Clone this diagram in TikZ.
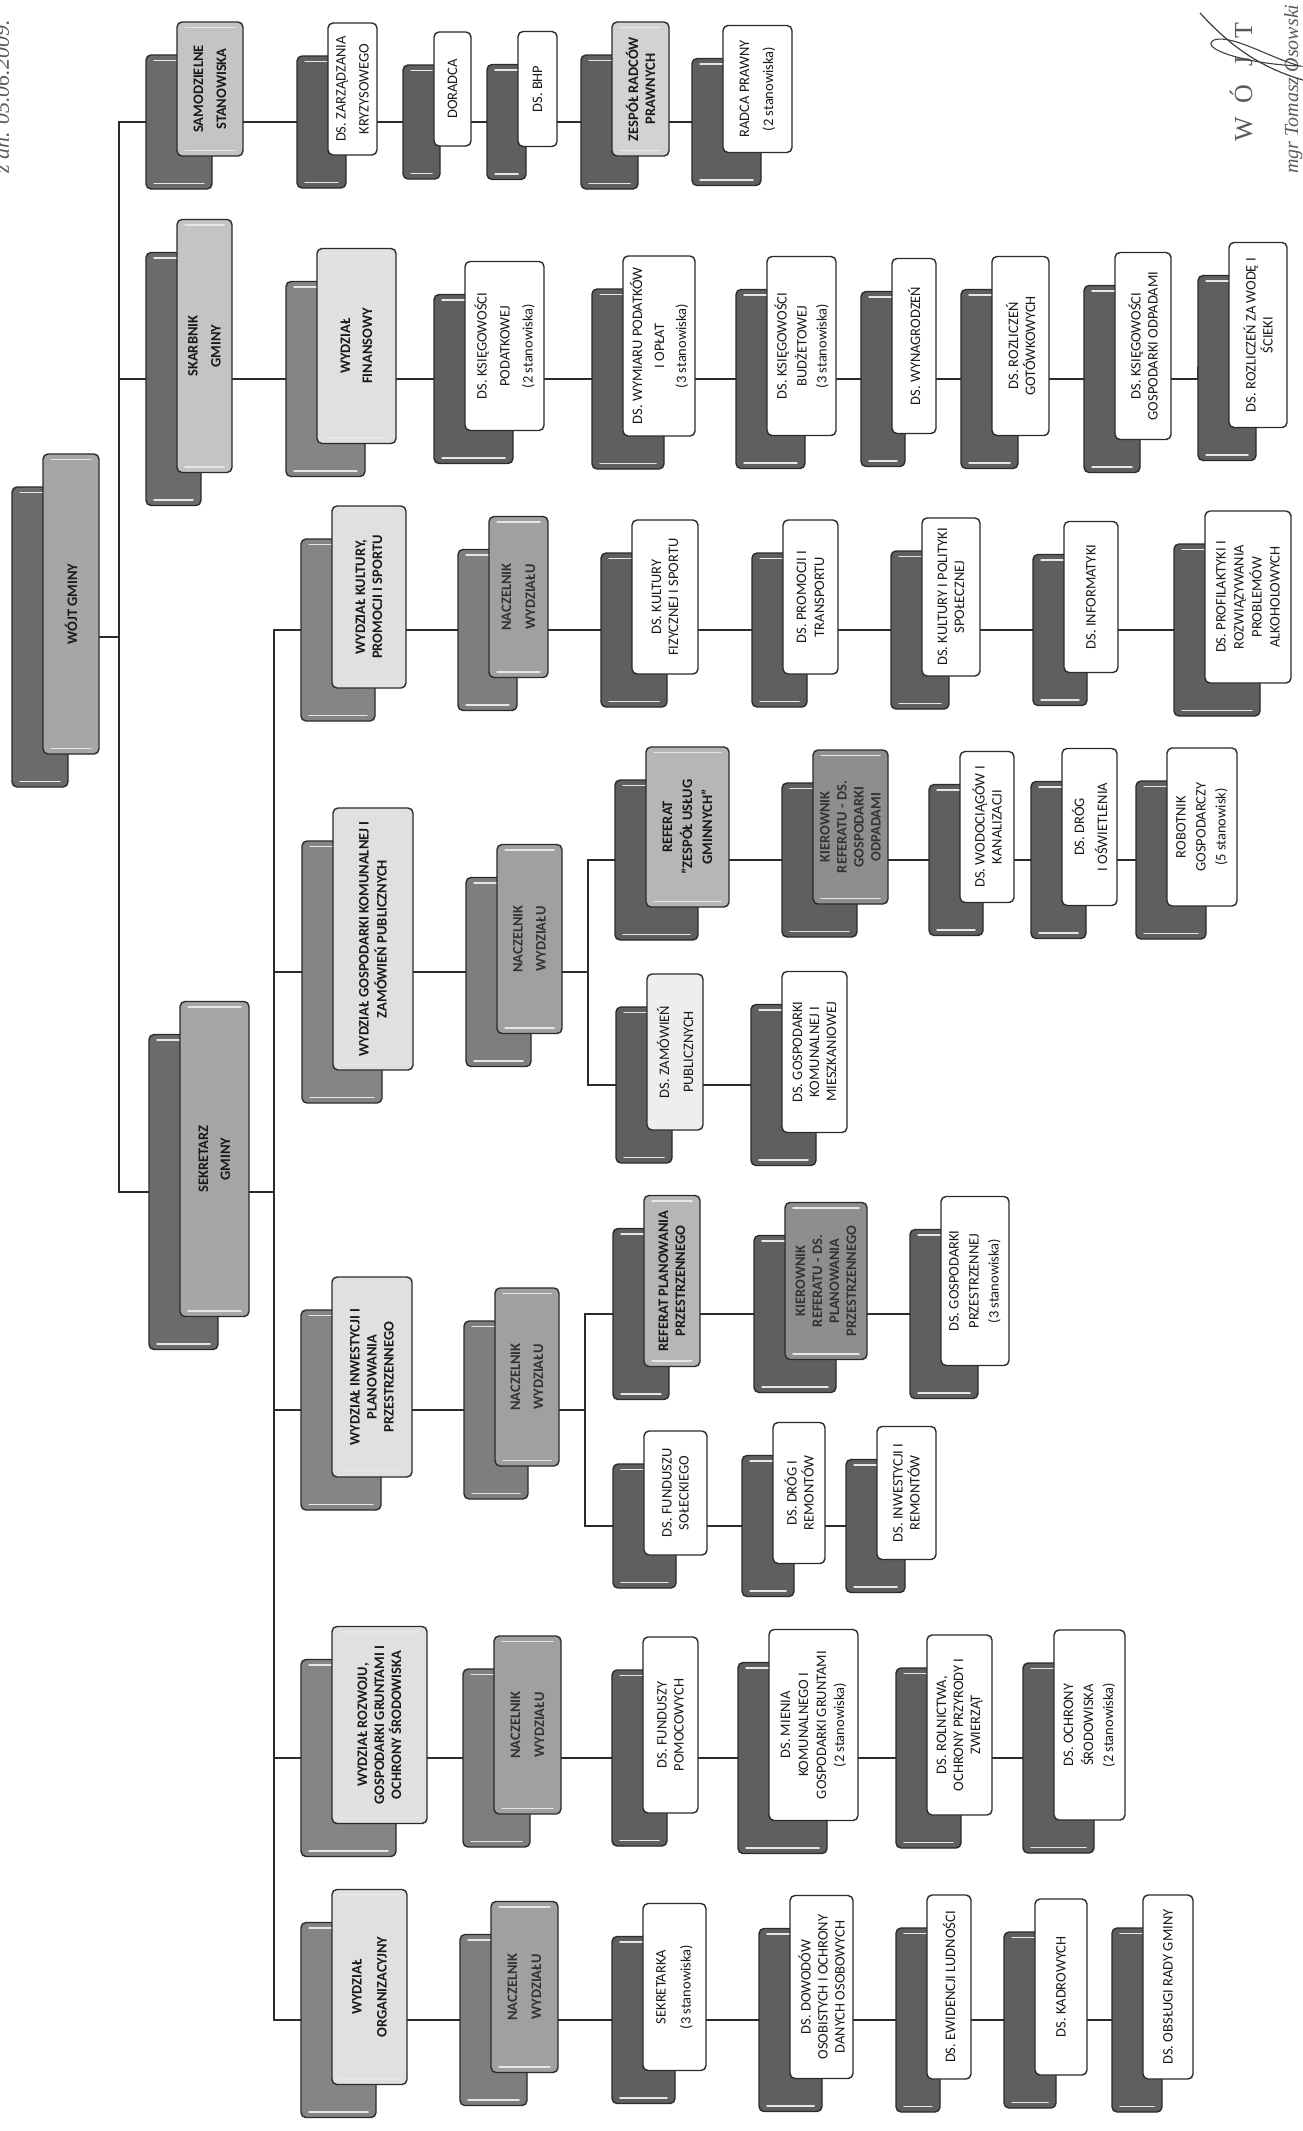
\documentclass[tikz,border=0pt]{standalone}
\usepackage{fontspec}
\newfontfamily\carl{Carlito}
\newfontfamily\sigfont{Liberation Serif}
\usetikzlibrary{calc}
\pgfdeclarelayer{bg}
\pgfsetlayers{bg,main}
\definecolor{edge}{HTML}{2B2B2B}
\definecolor{glosscol}{HTML}{E6E6E6}
\definecolor{backdark}{HTML}{5F5F5F}
\definecolor{backtop}{HTML}{6B6B6B}
\definecolor{backmid}{HTML}{858585}
\definecolor{backnacz}{HTML}{7E7E7E}
\definecolor{topfront}{HTML}{A6A6A6}
\definecolor{samfront}{HTML}{C4C4C4}
\definecolor{zespfront}{HTML}{D2D2D2}
\definecolor{wydfront}{HTML}{E0E0E0}
\definecolor{naczfront}{HTML}{A0A0A0}
\definecolor{reffront}{HTML}{B6B6B6}
\definecolor{kierfront}{HTML}{8E8E8E}
\definecolor{dslfront}{HTML}{EEEEEE}
\definecolor{sigcol}{HTML}{5A5A5A}
\tikzset{
  boxbase/.style={draw=edge, line width=1.4pt, rounded corners=5pt, inner sep=0pt, outer sep=0pt},
  gloss/.style={path picture={
    \draw[glosscol, line width=1.5pt, line cap=round]
      ([xshift=8pt,yshift=-5.5pt]path picture bounding box.north west) -- ([xshift=-8pt,yshift=-5.5pt]path picture bounding box.north east)
      ([xshift=8pt,yshift=5.5pt]path picture bounding box.south west) -- ([xshift=-8pt,yshift=5.5pt]path picture bounding box.south east);}},
  backbox/.style={boxbase, gloss},
  frontbox/.style={boxbase},
  txt/.style={inner sep=0pt, align=center, text=black!90},
  boldtxt/.style={execute at begin node=\bfseries},
  conn/.style={draw=edge, line width=1.6pt},
  top-back/.style={fill=backtop},   top-front/.style={fill=topfront, gloss},  top-text/.style={boldtxt},
  sam-back/.style={fill=backtop},   sam-front/.style={fill=samfront, gloss},  sam-text/.style={boldtxt},
  zesp-back/.style={fill=backdark}, zesp-front/.style={fill=zespfront, gloss}, zesp-text/.style={boldtxt},
  wyd-back/.style={fill=backmid},   wyd-front/.style={fill=wydfront, gloss},  wyd-text/.style={boldtxt},
  nacz-back/.style={fill=backnacz}, nacz-front/.style={fill=naczfront, gloss}, nacz-text/.style={boldtxt, text=black!80},
  ref-back/.style={fill=backdark},  ref-front/.style={fill=reffront, gloss},  ref-text/.style={boldtxt},
  kier-back/.style={fill=backdark}, kier-front/.style={fill=kierfront, gloss}, kier-text/.style={boldtxt, text=black!80},
  ds-back/.style={fill=backdark},   ds-front/.style={fill=white},  ds-text/.style={},
  dsl-back/.style={fill=backdark},  dsl-front/.style={fill=dslfront}, dsl-text/.style={},
  sigtext/.style={text=sigcol, inner sep=0pt}
}
% name, left x of front, width, height, row y (back centre), kind, leading, text
\newcommand\orgbox[8]{%
  \node[backbox, #6-back, minimum width=#3pt, minimum height=#4pt] (#1-b) at ({#2+#3/2-31},{#5}) {};
  \node[frontbox, #6-front, minimum width=#3pt, minimum height=#4pt] (#1) at ({#2+#3/2},{#5-33}) {};
  \node[txt, rotate=90, font=\carl\fontsize{14.5}{#7}\selectfont, #6-text] (#1-t) at (#1.center) {#8};
}
\begin{document}
\begin{tikzpicture}[x=1pt,y=-1pt]
\useasboundingbox (0,0) rectangle (1303,2131);
\clip (0,0) rectangle (1303,2131);

% top level
\orgbox{wojt}{43}{56}{300}{637}{top}{17}{WÓJT GMINY}
% samodzielne row
\orgbox{sam}{177}{66}{134}{122}{sam}{23}{SAMODZIELNE\\STANOWISKA}
\orgbox{zarz}{328}{49}{132}{122}{ds}{23}{DS. ZARZĄDZANIA\\KRYZYSOWEGO}
\orgbox{dor}{434}{37}{114}{122}{ds}{17}{DORADCA}
\orgbox{bhp}{518}{39}{115}{122}{ds}{17}{DS. BHP}
\orgbox{zesp}{612}{57}{134}{122}{zesp}{17}{ZESPÓŁ RADCÓW\\PRAWNYCH}
\orgbox{radca}{723}{69}{127}{122}{ds}{24}{RADCA PRAWNY\\(2 stanowiska)}
% skarbnik row
\orgbox{skarb}{177}{55}{253}{379}{sam}{23}{SKARBNIK\\GMINY}
\orgbox{fin}{317}{79}{195}{379}{wyd}{22}{WYDZIAŁ\\FINANSOWY}
\orgbox{kspod}{465}{79}{169}{379}{ds}{23}{DS. KSIĘGOWOŚCI\\PODATKOWEJ\\(2 stanowiska)}
\orgbox{wym}{623}{72}{180}{379}{ds}{22}{DS. WYMIARU PODATKÓW\\I OPŁAT\\(3 stanowiska)}
\orgbox{budz}{767}{69}{179}{379}{ds}{20}{DS. KSIĘGOWOŚCI\\BUDŻETOWEJ\\(3 stanowiska)}
\orgbox{wyn}{892}{44}{175}{379}{ds}{17}{DS. WYNAGRODZEŃ}
\orgbox{got}{992}{57}{179}{379}{ds}{17}{DS. ROZLICZEŃ\\GOTÓWKOWYCH}
\orgbox{odp}{1115}{56}{187}{379}{ds}{17}{DS. KSIĘGOWOŚCI\\GOSPODARKI ODPADAMI}
\orgbox{woda}{1229}{58}{185}{368}{ds}{17}{DS. ROZLICZEŃ ZA WODĘ I\\ŚCIEKI}
% sekretarz
\orgbox{sekr}{180}{69}{315}{1192}{top}{22}{SEKRETARZ\\GMINY}
% kultura row
\orgbox{kult}{332}{74}{182}{630}{wyd}{17}{WYDZIAŁ KULTURY,\\PROMOCJI I SPORTU}
\orgbox{nkult}{489}{59}{161}{630}{nacz}{24}{NACZELNIK\\WYDZIAŁU}
\orgbox{kfiz}{632}{66}{154}{630}{ds}{17}{DS. KULTURY\\FIZYCZNEJ I SPORTU}
\orgbox{prom}{783}{55}{154}{630}{ds}{18}{DS. PROMOCJI I\\TRANSPORTU}
\orgbox{kpol}{922}{58}{158}{630}{ds}{17}{DS. KULTURY I POLITYKI\\SPOŁECZNEJ}
\orgbox{inf}{1064}{54}{151}{630}{ds}{17}{DS. INFORMATYKI}
\orgbox{prof}{1205}{86}{172}{630}{ds}{18}{DS. PROFILAKTYKI I\\ROZWIĄZYWANIA\\PROBLEMÓW\\ALKOHOLOWYCH}
% gospodarka komunalna
\orgbox{gk}{333}{80}{262}{972}{wyd}{18}{WYDZIAŁ GOSPODARKI KOMUNALNEJ I\\ZAMÓWIEŃ PUBLICZNYCH}
\orgbox{ngk}{497}{65}{189}{972}{nacz}{23}{NACZELNIK\\WYDZIAŁU}
\orgbox{refzug}{646}{83}{160}{860}{ref}{20}{REFERAT\\”ZESPÓŁ USŁUG\\GMINNYCH”}
\orgbox{kierzug}{813}{75}{154}{860}{kier}{17}{KIEROWNIK\\REFERATU - DS.\\GOSPODARKI\\ODPADAMI}
\orgbox{wod}{960}{54}{151}{860}{ds}{17}{DS. WODOCIĄGÓW I\\KANALIZACJI}
\orgbox{drogosw}{1062}{55}{157}{860}{ds}{23}{DS. DRÓG\\I OŚWIETLENIA}
\orgbox{robot}{1167}{70}{158}{860}{ds}{20}{ROBOTNIK\\GOSPODARCZY\\(5 stanowisk)}
\orgbox{zam}{647}{56}{156}{1085}{dsl}{24}{DS. ZAMÓWIEŃ\\PUBLICZNYCH}
\orgbox{gkm}{782}{65}{161}{1085}{ds}{17}{DS. GOSPODARKI\\KOMUNALNEJ I\\MIESZKANIOWEJ}
% inwestycje
\orgbox{inw}{332}{80}{200}{1410}{wyd}{17}{WYDZIAŁ INWESTYCJI I\\PLANOWANIA\\PRZESTRZENNEGO}
\orgbox{ninw}{495}{64}{178}{1410}{nacz}{23}{NACZELNIK\\WYDZIAŁU}
\orgbox{refplan}{644}{56}{171}{1314}{ref}{17}{REFERAT PLANOWANIA\\PRZESTRZENNEGO}
\orgbox{kierplan}{785}{82}{157}{1314}{kier}{17}{KIEROWNIK\\REFERATU - DS.\\PLANOWANIA\\PRZESTRZENNEGO}
\orgbox{gp}{941}{68}{169}{1314}{ds}{20}{DS. GOSPODARKI\\PRZESTRZENNEJ\\(3 stanowiska)}
\orgbox{fsol}{644}{63}{124}{1526}{ds}{17}{DS. FUNDUSZU\\SOŁECKIEGO}
\orgbox{drogrem}{773}{52}{141}{1526}{ds}{17}{DS. DRÓG I\\REMONTÓW}
\orgbox{inwrem}{877}{59}{133}{1526}{ds}{17}{DS. INWESTYCJI I\\REMONTÓW}
% rozwoj
\orgbox{roz}{332}{95}{197}{1758}{wyd}{17}{WYDZIAŁ ROZWOJU,\\GOSPODARKI GRUNTAMI I\\OCHRONY ŚRODOWISKA}
\orgbox{nroz}{494}{67}{178}{1758}{nacz}{24}{NACZELNIK\\WYDZIAŁU}
\orgbox{fpom}{643}{55}{176}{1758}{ds}{17}{DS. FUNDUSZY\\POMOCOWYCH}
\orgbox{mien}{769}{89}{191}{1758}{ds}{18}{DS. MIENIA\\KOMUNALNEGO I\\GOSPODARKI GRUNTAMI\\(2 stanowiska)}
\orgbox{roln}{927}{65}{180}{1758}{ds}{17}{DS. ROLNICTWA,\\OCHRONY PRZYRODY I\\ZWIERZĄT}
\orgbox{ochr}{1054}{71}{190}{1758}{ds}{20}{DS. OCHRONY\\ŚRODOWISKA\\(2 stanowiska)}
% organizacyjny
\orgbox{org}{332}{75}{195}{2020}{wyd}{25}{WYDZIAŁ\\ORGANIZACYJNY}
\orgbox{norg}{491}{67}{171}{2020}{nacz}{24}{NACZELNIK\\WYDZIAŁU}
\orgbox{sekretarka}{643}{63}{167}{2020}{ds}{25}{SEKRETARKA\\(3 stanowiska)}
\orgbox{dow}{790}{63}{183}{2020}{ds}{17}{DS. DOWODÓW\\OSOBISTYCH I OCHRONY\\DANYCH OSOBOWYCH}
\orgbox{ewid}{927}{44}{184}{2020}{ds}{17}{DS. EWIDENCJI LUDNOŚCI}
\orgbox{kadr}{1035}{52}{176}{2020}{ds}{17}{DS. KADROWYCH}
\orgbox{obsl}{1143}{50}{184}{2020}{ds}{17}{DS. OBSŁUGI RADY GMINY}

% connectors (behind the boxes)
\coordinate (bus1) at (119,0);
\coordinate (bus2) at (274,0);
\coordinate (split1) at (588,0);
\coordinate (split2) at (585,0);
\begin{pgfonlayer}{bg}
\fill[white] (0,0) rectangle (1303,2131);
\draw[conn] (wojt-b.center) -- (wojt-b.center -| bus1);
\draw[conn] (sam-b.center) -- (sam-b.center -| bus1) -- (sekr-b.center -| bus1) -- (sekr-b.center);
\draw[conn] (skarb-b.center) -- (skarb-b.center -| bus1);
\draw[conn] (sam-b.center) -- (zarz-b.center) -- (dor-b.center) -- (bhp-b.center) -- (zesp-b.center) -- (radca-b.center);
\draw[conn] (skarb-b.center) -- (fin-b.center) -- (kspod-b.center) -- (wym-b.center) -- (budz-b.center) -- (wyn-b.center) -- (got-b.center) -- (odp-b.center) -- (odp-b.center -| woda-b.west) |- (woda-b.center);
\draw[conn] (sekr-b.center) -- (sekr-b.center -| bus2);
\draw[conn] (kult-b.center) -- (kult-b.center -| bus2) -- (org-b.center -| bus2) -- (org-b.center);
\draw[conn] (gk-b.center) -- (gk-b.center -| bus2);
\draw[conn] (inw-b.center) -- (inw-b.center -| bus2);
\draw[conn] (roz-b.center) -- (roz-b.center -| bus2);
\draw[conn] (kult-b.center) -- (nkult-b.center) -- (kfiz-b.center) -- (prom-b.center) -- (kpol-b.center) -- (inf-b.center) -- (prof-b.center);
\draw[conn] (gk-b.center) -- (ngk-b.center) -- (ngk-b.center -| split1);
\draw[conn] (refzug-b.center) -- (refzug-b.center -| split1) -- (zam-b.center -| split1) -- (zam-b.center);
\draw[conn] (refzug-b.center) -- (kierzug-b.center) -- (wod-b.center) -- (drogosw-b.center) -- (robot-b.center);
\draw[conn] (zam-b.center) -- (gkm-b.center);
\draw[conn] (inw-b.center) -- (ninw-b.center) -- (ninw-b.center -| split2);
\draw[conn] (refplan-b.center) -- (refplan-b.center -| split2) -- (fsol-b.center -| split2) -- (fsol-b.center);
\draw[conn] (refplan-b.center) -- (kierplan-b.center) -- (gp-b.center);
\draw[conn] (fsol-b.center) -- (drogrem-b.center) -- (inwrem-b.center);
\draw[conn] (roz-b.center) -- (nroz-b.center) -- (fpom-b.center) -- (mien-b.center) -- (roln-b.center) -- (ochr-b.center);
\draw[conn] (org-b.center) -- (norg-b.center) -- (sekretarka-b.center) -- (dow-b.center) -- (ewid-b.center) -- (kadr-b.center) -- (obsl-b.center);
\end{pgfonlayer}

% handwritten date (cut at the left edge)
\node[sigtext, rotate=90, anchor=base east, font=\sigfont\itshape\fontsize{22}{24}\selectfont] (date) at (9,20) {z dn. 05.06.2009.};
% stamp and signature (cut at the right edge)
\node[sigtext, rotate=90, anchor=base west, font=\sigfont\fontsize{26}{28}\selectfont] (stamp) at (1252,142) {W\hspace{14pt}Ó\hspace{18pt}J\hspace{18pt}T};
\node[sigtext, rotate=90, anchor=base west, font=\sigfont\itshape\fontsize{20}{22}\selectfont] (name) at (1298,174) {mgr Tomasz Osowski};
\draw[black!75, line width=1.2pt] (1200,13) .. controls (1232,48) and (1262,68) .. (1303,80);
\draw[black!75, line width=1.1pt] (1214,40) .. controls (1198,48) and (1245,64) .. (1300,66) .. controls (1270,58) and (1232,34) .. (1214,40);
\end{tikzpicture}
\end{document}
